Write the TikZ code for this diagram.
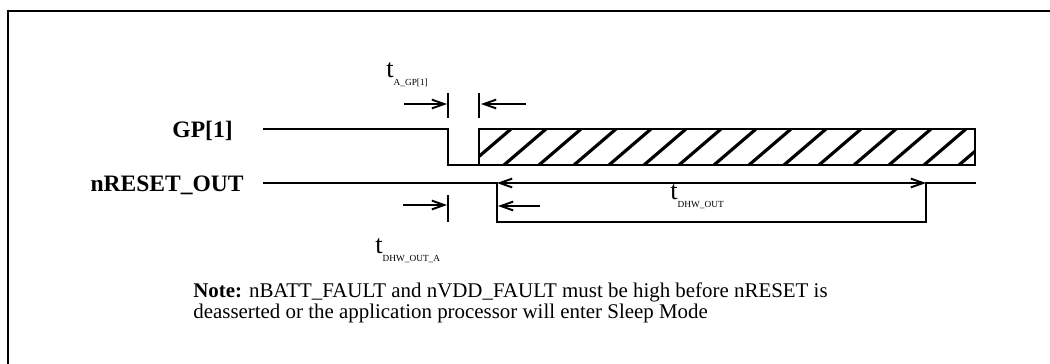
\documentclass[tikz,border=0pt]{standalone}
\usepackage{fontspec}
\setmainfont{Liberation Serif}
\usetikzlibrary{arrows.meta,positioning}

\begin{document}
\begin{tikzpicture}[x=0.2mm,y=-0.2mm,>={Straight Barb[length=7pt,width=5pt]}]
				\tikzstyle{frame}=[line width=1.7pt]
				\tikzstyle{sig}=[line width=0.6pt]
				\tikzstyle{dim}=[line width=1.1pt]
				\tikzstyle{tick}=[line width=0.8pt]
				\tikzstyle{hatch}=[line width=1.8pt]
				\tikzstyle{siglabel}=[font=\fontsize{13.4}{14}\selectfont\bfseries, anchor=base east, inner sep=0pt]
				\tikzstyle{tlabel}=[font=\fontsize{15}{16}\selectfont, anchor=base west, inner sep=0pt]
				\newcommand{\tsub}[1]{\raisebox{-5pt}{\fontsize{5.3}{6}\selectfont #1}}
				\useasboundingbox (0,0) rectangle (1050,364);
				%Frame
				\draw[frame] (8,364) -- (8,11) -- (1050,11);
				%Labels
				\node[siglabel](gp)at(233,137){GP[1]};
				\node[siglabel](nrst)at(244,191){nRESET\_OUT};
				%GP[1] waveform
				\coordinate (gpA) at (263,129);
				\coordinate (gpB) at (448,129);
				\coordinate (gpC) at (448,165);
				\coordinate (gpD) at (479,165);
				\coordinate (boxNE) at (975,129);
				\draw[sig] (gpA) -- (gpB) -- (gpC) -- (gpD);
				\begin{scope}
					\clip (gpD) rectangle (boxNE);
					\foreach \x in {469,504,...,1000}
						\draw[hatch] (\x,165) -- (\x+42,129);
				\end{scope}
				\draw[sig] (gpD) rectangle (boxNE);
				%nRESET_OUT waveform
				\coordinate (rA) at (263,183);
				\coordinate (rB) at (497,183);
				\coordinate (rC) at (497,222);
				\coordinate (rD) at (926,222);
				\coordinate (rE) at (926,183);
				\coordinate (rF) at (976,183);
				\draw[sig] (rA) -- (rB) -- (rC) -- (rD) -- (rE) -- (rF);
				%t_A_GP[1]
				\coordinate (k1t) at (448,93);
				\coordinate (k1b) at (448,118);
				\coordinate (k2t) at (479,93);
				\coordinate (k2b) at (479,118);
				\coordinate (a1s) at (404,104);
				\coordinate (a1e) at (447,104);
				\coordinate (a2s) at (526,104);
				\coordinate (a2e) at (481,104);
				\draw[tick] (k1t) -- (k1b);
				\draw[tick] (k2t) -- (k2b);
				\draw[dim,->] (a1s) -- (a1e);
				\draw[dim,->] (a2s) -- (a2e);
				\node[tlabel](tagp)at(386,77){t\tsub{A\_GP[1]}};
				%t_DHW_OUT
				\draw[dim,<->] (rB) -- (rE);
				\coordinate (a3s) at (540,206);
				\coordinate (a3e) at (498,206);
				\draw[dim,->] (a3s) -- (a3e);
				\node[tlabel](tdhw)at(670,199){t\tsub{DHW\_OUT}};
				%t_DHW_OUT_A
				\coordinate (k3t) at (448,195);
				\coordinate (k3b) at (448,222);
				\coordinate (a4s) at (403,205);
				\coordinate (a4e) at (447,205);
				\draw[tick] (k3t) -- (k3b);
				\draw[dim,->] (a4s) -- (a4e);
				\node[tlabel](tdhwa)at(375,253){t\tsub{DHW\_OUT\_A}};
				%Note
				\node[anchor=north west, inner sep=0pt, align=left, font=\fontsize{11.9}{12.4}\selectfont](note)at(193,282){\textbf{Note:} nBATT\_FAULT and nVDD\_FAULT must be high before nRESET is\\deasserted or the application processor will enter Sleep Mode};
\end{tikzpicture}
\end{document}
